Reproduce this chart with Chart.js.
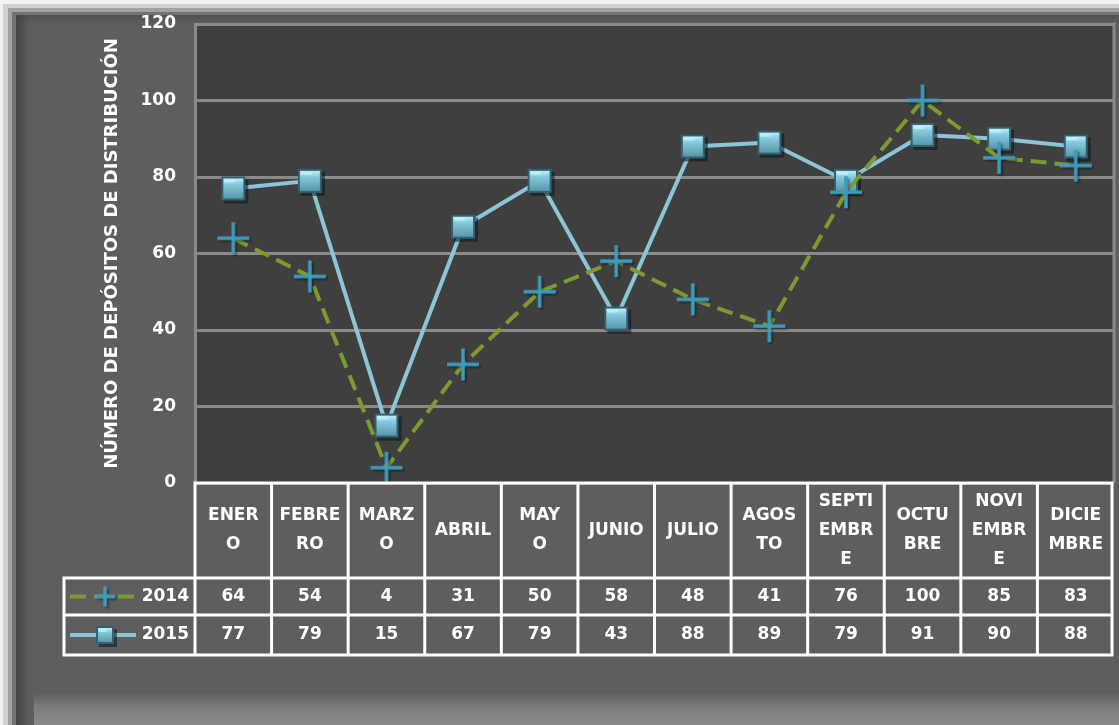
<!DOCTYPE html>
<html>
<head>
<meta charset="utf-8">
<script src="https://cdn.jsdelivr.net/npm/chart.js@4/dist/chart.umd.min.js"></script>
<style>
  html,body{margin:0;padding:0;}
  body{width:1119px;height:725px;overflow:hidden;position:relative;background:#f3f3f3;font-family:"DejaVu Sans",sans-serif;}
  .f{position:absolute;right:0;bottom:0;}
  #f1{left:3px;top:4px;background:#d2d2d2;}
  #f2{left:8px;top:8px;background:#a2a2a2;}
  #f3{left:12px;top:12px;background:#727272;}
  #f4{left:16px;top:15px;background:#5e5e5e;box-shadow:inset 12px 6px 9px -5px rgba(0,0,0,0.28);}
  #f5{left:34px;height:32px;background:linear-gradient(to bottom,#5e5e5e,#7a7a7a 40%,#8c8c8c);}
  #c{position:absolute;left:0;top:0;}
</style>
</head>
<body>
<div class="f" id="f1"></div>
<div class="f" id="f2"></div>
<div class="f" id="f3"></div>
<div class="f" id="f4"></div>
<div class="f" id="f5"></div>
<canvas id="c" width="1119" height="725"></canvas>
<script>
const categories = [
  ['ENER','O'], ['FEBRE','RO'], ['MARZ','O'], ['ABRIL'], ['MAY','O'], ['JUNIO'],
  ['JULIO'], ['AGOS','TO'], ['SEPTI','EMBR','E'], ['OCTU','BRE'], ['NOVI','EMBR','E'], ['DICIE','MBRE']
];
const seriesNames = ['2014', '2015'];
const values2014 = [64, 54, 4, 31, 50, 58, 48, 41, 76, 100, 85, 83];
const values2015 = [77, 79, 15, 67, 79, 43, 88, 89, 79, 91, 90, 88];
const yTicks = [0, 20, 40, 60, 80, 100, 120];
const yTitle = 'NÚMERO DE DEPÓSITOS DE DISTRIBUCIÓN';

const FONT = 'DejaVu Sans';

function makeCross(size) {
  const pad = 4, c = document.createElement('canvas');
  c.width = c.height = size + pad * 2;
  const g = c.getContext('2d'), m = c.width / 2;
  g.shadowColor = 'rgba(0,0,0,0.35)'; g.shadowOffsetX = 2; g.shadowOffsetY = 2; g.shadowBlur = 2;
  g.strokeStyle = '#3d9cbd'; g.lineWidth = 3.5;
  g.beginPath();
  g.moveTo(m - size / 2, m); g.lineTo(m + size / 2, m);
  g.moveTo(m, m - size / 2); g.lineTo(m, m + size / 2);
  g.stroke();
  return c;
}
function makeSquare(size) {
  const c = document.createElement('canvas');
  c.width = c.height = size + 10;
  const g = c.getContext('2d'), o = 5;
  g.fillStyle = 'rgba(10,20,25,0.55)';
  g.fillRect(o + 3, o + 3, size, size);
  g.fillStyle = '#34606f';
  g.fillRect(o, o, size, size);
  const gr = g.createLinearGradient(0, o + 2, 0, o + size - 2);
  gr.addColorStop(0, '#b8f0fb'); gr.addColorStop(0.3, '#86c9dc'); gr.addColorStop(1, '#5a97ae');
  g.fillStyle = gr;
  g.fillRect(o + 2, o + 2, size - 4, size - 4);
  g.fillStyle = 'rgba(210,250,255,0.55)';
  g.fillRect(o + 3, o + 3, size * 0.45, 3);
  return c;
}
const crossBig = makeCross(32), crossSmall = makeCross(20);
const squareBig = makeSquare(24), squareSmall = makeSquare(18);

const bgPlugin = {
  id: 'plotBg',
  beforeDraw(chart) {
    const {ctx, chartArea: a} = chart;
    ctx.save();
    ctx.fillStyle = '#3f3f3f';
    ctx.fillRect(a.left, a.top, a.right - a.left, a.bottom - a.top);
    ctx.restore();
  },
  afterDatasetsDraw(chart) {
    const {ctx, chartArea: a} = chart;
    ctx.save();
    ctx.strokeStyle = '#8a8a8a'; ctx.lineWidth = 3;
    ctx.beginPath(); ctx.moveTo(a.right, a.top - 1.5); ctx.lineTo(a.right, a.bottom); ctx.stroke();
    ctx.restore();
  }
};

const tablePlugin = {
  id: 'dataTable',
  afterDraw(chart) {
    const {ctx, chartArea: a} = chart;
    const xs = chart.scales.x;
    const n = categories.length;
    const colW = (xs.getPixelForValue(n - 1) - xs.getPixelForValue(0)) / (n - 1);
    const left = xs.getPixelForValue(0) - colW / 2;
    const right = xs.getPixelForValue(n - 1) + colW / 2 - 2;
    const legLeft = 64;
    const top = a.bottom, hdrB = top + 95, r1B = hdrB + 37, r2B = r1B + 40;
    ctx.save();
    ctx.strokeStyle = '#ffffff'; ctx.lineWidth = 3;
    ctx.beginPath();
    ctx.moveTo(left - 1.5, top); ctx.lineTo(right + 1.5, top);
    [hdrB, r1B, r2B].forEach(y => { ctx.moveTo(legLeft - 1.5, y); ctx.lineTo(right + 1.5, y); });
    for (let i = 0; i <= n; i++) {
      const x = i === n ? right : left + i * colW;
      ctx.moveTo(x, top); ctx.lineTo(x, r2B);
    }
    ctx.moveTo(legLeft, hdrB); ctx.lineTo(legLeft, r2B);
    ctx.stroke();

    ctx.fillStyle = '#ffffff';
    ctx.textAlign = 'center'; ctx.textBaseline = 'middle';
    ctx.font = 'bold 17px "' + FONT + '"';
    const hc = (top + hdrB) / 2, lh = 29;
    categories.forEach((lines, i) => {
      const cx = xs.getPixelForValue(i);
      const y0 = hc - (lines.length - 1) * lh / 2;
      lines.forEach((t, k) => ctx.fillText(t, cx, y0 + k * lh));
    });
    const rows = [values2014, values2015];
    const rc = [(hdrB + r1B) / 2, (r1B + r2B) / 2];
    rows.forEach((vals, r) => {
      vals.forEach((v, i) => ctx.fillText(String(v), xs.getPixelForValue(i), rc[r]));
    });
    ctx.textAlign = 'right';
    seriesNames.forEach((s, r) => ctx.fillText(s, left - 6, rc[r]));

    // legend keys
    const ds = chart.data.datasets;
    rc.forEach((y, r) => {
      const d = ds[r];
      ctx.save();
      ctx.strokeStyle = d.borderColor; ctx.lineWidth = d.borderWidth;
      ctx.setLineDash(d.borderDash || []);
      ctx.beginPath(); ctx.moveTo(70, y); ctx.lineTo(136, y); ctx.stroke();
      ctx.restore();
      const img = r === 0 ? crossSmall : squareSmall;
      ctx.drawImage(img, 105 - img.width / 2, y - img.height / 2);
    });
    ctx.restore();
  }
};

new Chart(document.getElementById('c'), {
  type: 'line',
  data: {
    labels: categories.map(l => l.join('')),
    datasets: [
      {
        label: seriesNames[0], data: values2014,
        borderColor: '#7b9a2f', borderWidth: 4, borderDash: [16, 8],
        pointStyle: crossBig, pointRadius: 10, tension: 0
      },
      {
        label: seriesNames[1], data: values2015,
        borderColor: '#8dc4d8', borderWidth: 4,
        pointStyle: squareBig, pointRadius: 12, tension: 0
      }
    ]
  },
  options: {
    responsive: false,
    animation: false,
    events: [],
    layout: { autoPadding: false, padding: { left: 0, top: 24, right: 5, bottom: 242 } },
    plugins: { legend: { display: false }, tooltip: { enabled: false } },
    scales: {
      x: { display: false, offset: true },
      y: {
        min: 0, max: 120,
        afterBuildTicks(s) { s.ticks = yTicks.map(v => ({ value: v })); },
        afterFit(s) { s.width = 195; s.paddingTop = 0; s.paddingBottom = 0; },
        grid: { color: '#8a8a8a', lineWidth: 3, drawTicks: false },
        border: { display: true, color: '#8a8a8a', width: 3 },
        ticks: { color: '#ffffff', padding: 19, font: { family: FONT, weight: 'bold', size: 17 } },
        title: {
          display: true, text: yTitle, color: '#ffffff',
          font: { family: FONT, weight: 'bold', size: 18 }, padding: { top: 102, bottom: 0 }
        }
      }
    }
  },
  plugins: [bgPlugin, tablePlugin]
});
</script>
</body>
</html>
